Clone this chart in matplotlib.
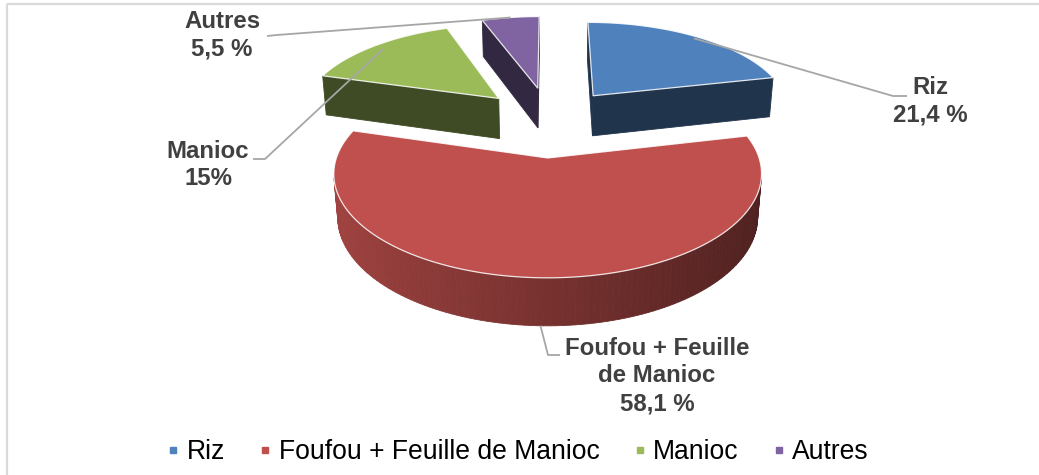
import numpy as np
import matplotlib
matplotlib.use('Agg')
import matplotlib.pyplot as plt
from matplotlib.patches import Polygon, Rectangle
from matplotlib.lines import Line2D

categories = ['Riz', 'Foufou + Feuille de Manioc', 'Manioc', 'Autres']
values = [21.4, 58.1, 15.0, 5.5]
label_texts = ['Riz\n21,4 %', 'Foufou + Feuille\nde Manioc\n58,1 %', 'Manioc\n15%', 'Autres\n5,5 %']
colors = ['#4F81BD', '#C0504D', '#9BBB59', '#8064A2']

# 3-D view settings (screen centre, focal length, camera distance, tilt, slab height, explode per slice)
VIEW = dict(cx=550.09, cy=120.29, F=1238.4, D=6.2093, tilt=26.966, h=0.23596)
explode = [0.36052, 0.39366, 0.36582, 0.37862]

fr = np.array(values) / sum(values)
cum = np.concatenate([[0], np.cumsum(fr)])
hi = 90 - 360 * cum[:-1]
lo = 90 - 360 * cum[1:]
mid = (lo + hi) / 2

cx, cy, F, D, tilt, h = (VIEW[k] for k in ('cx', 'cy', 'F', 'D', 'tilt', 'h'))
t = np.radians(tilt)
sn, cs = np.sin(t), np.cos(t)
cam = np.array([0.0, -D * cs, D * sn])


def proj(u, v, z):
    yc = v * sn + z * cs
    d = D + v * cs - z * sn
    return cx + F * u / d, cy - F * yc / d


def P2(pt):
    return proj(pt[0], pt[1], pt[2])


def shade(col, k):
    rgb = np.array(matplotlib.colors.to_rgb(col))
    return tuple(np.clip(rgb * k, 0, 1))


fig = plt.figure(figsize=(10.39, 4.75), dpi=100)
ax = fig.add_axes([0, 0, 1, 1])
ax.set_xlim(0, 1039)
ax.set_ylim(475, 0)
ax.axis('off')


def offset(k):
    return (explode[k] * np.cos(np.radians(mid[k])), explode[k] * np.sin(np.radians(mid[k])))


order = sorted(range(4), key=lambda k: -np.linalg.norm(np.array([*offset(k), 0.0]) - cam))

for k in order:
    ox, oy = offset(k)
    angs = np.radians(np.linspace(lo[k], hi[k], 140))

    def rim(a, z):
        return np.array([ox + np.cos(a), oy + np.sin(a), z])
    apex0 = np.array([ox, oy, 0.0])
    apex1 = np.array([ox, oy, -h])
    faces = []
    a = angs[0]
    faces.append((np.array([np.sin(a), -np.cos(a), 0]), apex0,
                  [apex0, rim(a, 0), rim(a, -h), apex1], shade(colors[k], 0.4)))
    a = angs[-1]
    faces.append((np.array([-np.sin(a), np.cos(a), 0]), apex0,
                  [apex0, rim(a, 0), rim(a, -h), apex1], shade(colors[k], 0.4)))
    for i in range(len(angs) - 1):
        am = 0.5 * (angs[i] + angs[i + 1])
        kk = 0.62 - 0.22 * np.cos(am)
        faces.append((np.array([np.cos(am), np.sin(am), 0]), rim(am, 0),
                      [rim(angs[i], 0), rim(angs[i + 1], 0), rim(angs[i + 1], -h), rim(angs[i], -h)],
                      shade(colors[k], kk)))
    vis = [f for f in faces if np.dot(f[0], cam - f[1]) > 0]
    vis.sort(key=lambda f: -np.linalg.norm(np.mean(f[2], axis=0) - cam))
    for f in vis:
        xy = np.array([P2(q) for q in f[2]])
        ax.add_patch(Polygon(xy, closed=True, facecolor=f[3], edgecolor=f[3], lw=0.6, zorder=2))
    top = [apex0] + [rim(a, 0) for a in angs]
    xy = np.array([P2(q) for q in top])
    ax.add_patch(Polygon(xy, closed=True, facecolor=colors[k], edgecolor='none', zorder=2))
    ax.add_patch(Polygon(xy, closed=True, facecolor='none', edgecolor='white', lw=0.9, alpha=0.85, zorder=2))

# data labels
lab_pos = [(930, 101), (657, 376), (208, 165), (222, 35)]
for k in range(4):
    ax.text(lab_pos[k][0], lab_pos[k][1], label_texts[k], ha='center', va='center', fontsize=17.3,
            fontweight='bold', color='#404040', family='Liberation Sans', linespacing=1.25, zorder=4)

# leader lines
elbows = [((907, 96), (893, 96)), ((560, 355), (548, 355)), ((253, 159), (265, 159)), ((267, 36), (277, 35))]
anch_r = [0.97, 1.0, 0.93, 1.0]
for k in range(4):
    ox, oy = offset(k)
    am = np.radians(mid[k])
    z = -h if k == 1 else 0.0
    X, Y = proj(ox + anch_r[k] * np.cos(am), oy + anch_r[k] * np.sin(am), z)
    (x1, y1), (x2, y2) = elbows[k]
    ax.plot([x1, x2, X], [y1, y2, Y], color='#A6A6A6', lw=1.3, zorder=3, solid_capstyle='butt')

# chart frame
ax.add_patch(Rectangle((6.5, 3.5), 1100, 600, fill=False, edgecolor='#D9D9D9', lw=1.6, zorder=1))

handles = [Line2D([], [], marker='s', linestyle='none', color=c, markersize=5) for c in colors]
ax.legend(handles, categories, loc='center', bbox_to_anchor=(517 / 1039, 23 / 475), ncol=4, frameon=False,
          prop={'family': 'Liberation Sans', 'size': 19.1}, handlelength=0.6, handletextpad=0.2,
          columnspacing=1.22, borderpad=0, borderaxespad=0)

fig.savefig('out.png', dpi=100)
